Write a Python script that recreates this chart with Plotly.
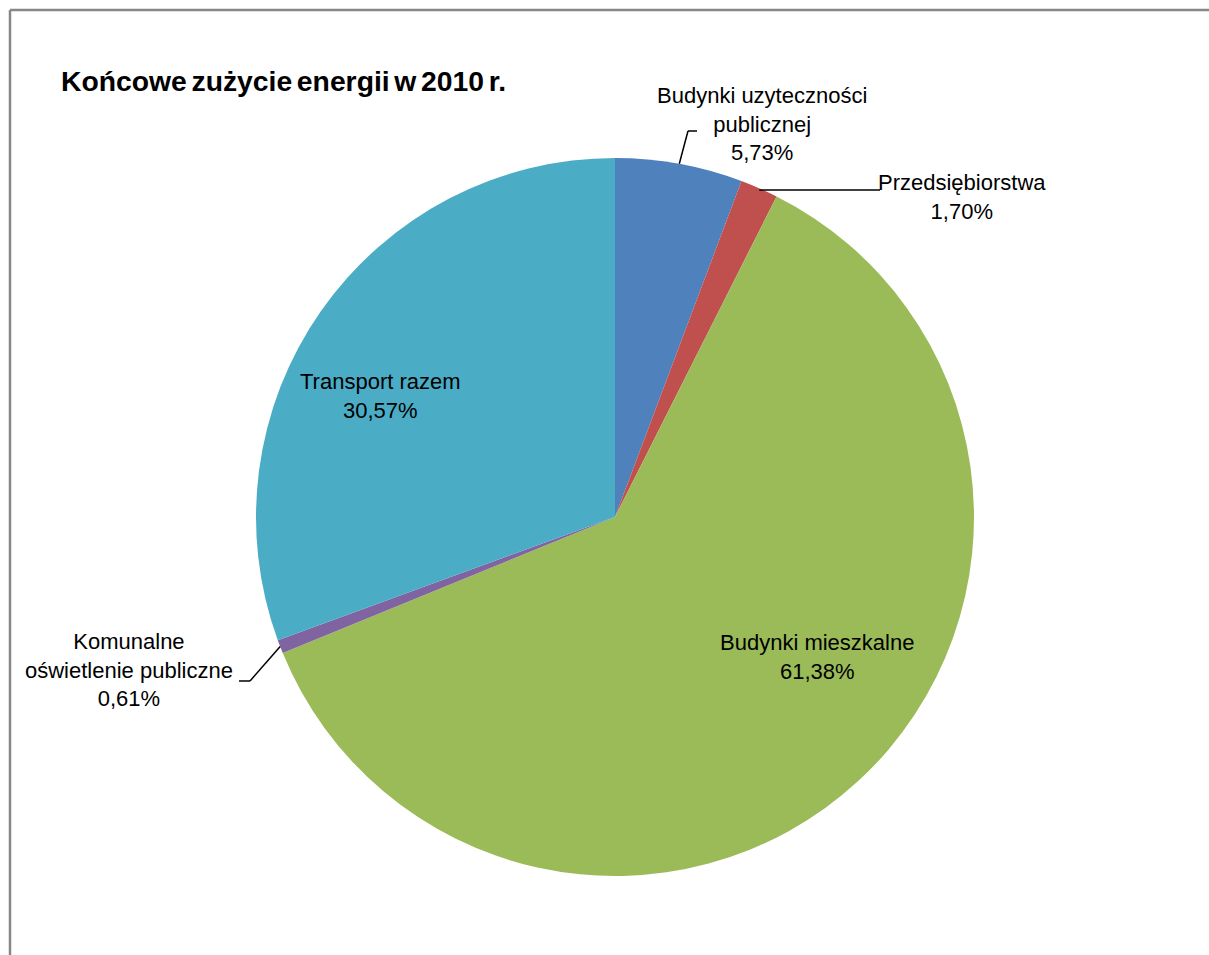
import math
import plotly.graph_objects as go

labels = ["Budynki uzyteczności publicznej", "Przedsiębiorstwa", "Budynki mieszkalne",
          "Komunalne oświetlenie publiczne", "Transport razem"]
label_text = ["Budynki uzyteczności<br>publicznej", "Przedsiębiorstwa", "Budynki mieszkalne",
              "Komunalne<br>oświetlenie publiczne", "Transport razem"]
values = [5.73, 1.70, 61.38, 0.61, 30.57]
pct_text = ["5,73%", "1,70%", "61,38%", "0,61%", "30,57%"]
colors = ["#4F81BD", "#C0504D", "#9BBB59", "#8064A2", "#4BACC6"]
title_text = "Końcowe zużycie energii w 2010 r."

W, H = 1209, 955
CX, CY, R = 615, 517, 359

def px(x):
    return x / W

def py(y):
    return 1 - y / H

fig = go.Figure(go.Pie(
    labels=labels, values=values, sort=False, direction="clockwise", rotation=0,
    marker=dict(colors=colors, line=dict(width=0)),
    textinfo="none", hoverinfo="label+percent", showlegend=False,
    domain=dict(x=[px(CX - R), px(CX + R)], y=[py(CY + R), py(CY - R)]),
))

total = sum(values)
mids = []
acc = 0
for v in values:
    mids.append((acc + v / 2) / total * 360)
    acc += v

def edge(i, frac=1.0):
    a = math.radians(mids[i])
    return CX + R * frac * math.sin(a), CY - R * frac * math.cos(a)

font = dict(family="Liberation Sans, Arial, sans-serif", size=22, color="#000000")
annotations = []
shapes = []

def seg(a, b, c, d):
    shapes.append(dict(type="line", xref="paper", yref="paper", x0=px(a), y0=py(b), x1=px(c), y1=py(d),
                       line=dict(color="#000", width=1.5)))

# Chart area border (left and top visible)
shapes.append(dict(type="line", xref="paper", yref="paper", x0=px(10), y0=py(10), x1=1.0, y1=py(10),
                   line=dict(color="#878787", width=2.5)))
shapes.append(dict(type="line", xref="paper", yref="paper", x0=px(10), y0=py(10), x1=px(10), y1=0,
                   line=dict(color="#878787", width=2.5)))

# Title
annotations.append(dict(text="<b>" + title_text.replace(" ", "\u2006") + "</b>", xref="paper", yref="paper",
                        x=px(59), y=py(81), xanchor="left", yanchor="middle", showarrow=False,
                        font=dict(family="Liberation Sans, Arial, sans-serif", size=28.3, color="#000")))

def lab(i, x, y):
    annotations.append(dict(text=label_text[i] + "<br>" + pct_text[i], xref="paper", yref="paper",
                            x=px(x), y=py(y), xanchor="center", yanchor="middle",
                            showarrow=False, font=font, align="center"))

# Inside labels
lab(4, 380, 396)
lab(2, 817, 657)

# Budynki uzytecznosci publicznej (outside, leader)
ex, ey = edge(0)
seg(ex, ey, 688, 131)
seg(688, 131, 697, 131)
lab(0, 762, 124)

# Przedsiebiorstwa
ex, ey = edge(1)
seg(ex, 190, 880, 190)
lab(1, 962, 197)

# Komunalne oswietlenie publiczne
ex, ey = edge(3)
seg(ex, ey, 250, 681)
seg(250, 681, 239, 681)
lab(3, 129, 670)

fig.update_layout(width=W, height=H, margin=dict(l=0, r=0, t=0, b=0),
                  paper_bgcolor="white", plot_bgcolor="white",
                  annotations=annotations, shapes=shapes)

fig.write_html("out.html", config={"displayModeBar": False},
               post_script="document.body.style.margin='0px';")
